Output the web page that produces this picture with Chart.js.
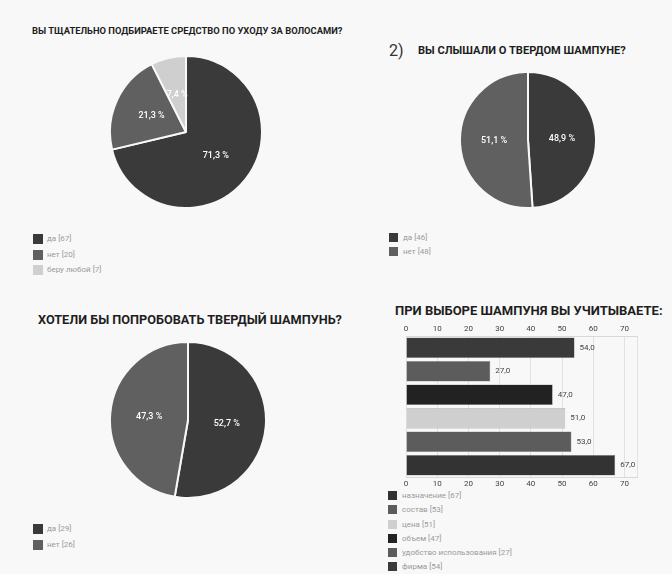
<!DOCTYPE html>
<html>
<head>
<meta charset="utf-8">
<script src="https://cdn.jsdelivr.net/npm/chart.js@4"></script>
<style>
  body { margin: 0; width: 672px; height: 574px; background: #f8f8f8; position: relative; overflow: hidden; font-family: Roboto, "Noto Sans", sans-serif; }
  canvas { position: absolute; }
  .titulo { position: absolute; font-weight: bold; color: #1e1e1e; white-space: nowrap; }
  .legenda { position: absolute; font-size: 8px; color: #9a9a9a; }
  .legenda div { position: relative; height: 15px; line-height: 10px; padding-left: 14px; white-space: nowrap; }
  .legenda span { position: absolute; left: 0; top: 0; width: 10px; height: 10px; }
</style>
</head>
<body>

<div class="titulo" style="left:32px; top:25px; font-size:9.4px;">ВЫ ТЩАТЕЛЬНО ПОДБИРАЕТЕ СРЕДСТВО ПО УХОДУ ЗА ВОЛОСАМИ?</div>
<div class="titulo" style="left:389px; top:41px; font-size:16px; font-weight:normal; color:#333;">2)</div>
<div class="titulo" style="left:418px; top:44px; font-size:11.1px;">ВЫ СЛЫШАЛИ О ТВЕРДОМ ШАМПУНЕ?</div>
<div class="titulo" style="left:38px; top:312px; font-size:12.7px;">ХОТЕЛИ БЫ ПОПРОБОВАТЬ ТВЕРДЫЙ ШАМПУНЬ?</div>
<div class="titulo" style="left:395px; top:303px; font-size:13px;">ПРИ ВЫБОРЕ ШАМПУНЯ ВЫ УЧИТЫВАЕТЕ:</div>

<canvas id="pizza1" width="154" height="154" style="left:109px; top:55px;"></canvas>
<canvas id="pizza2" width="138" height="138" style="left:459px; top:71px;"></canvas>
<canvas id="pizza3" width="158" height="158" style="left:109px; top:341px;"></canvas>
<canvas id="barras" width="296" height="169" style="left:376px; top:322px;"></canvas>

<div class="legenda" id="leg1" style="left:33px; top:234px;"></div>
<div class="legenda" id="leg2" style="left:389px; top:233px;"></div>
<div class="legenda" id="leg3" style="left:33px; top:524px;"></div>
<div class="legenda" id="leg4" style="left:388px; top:491px;"></div>

<script>
// Dados
const rotulos1 = ['да', 'нет', 'беру любой'];
const valores1 = [67, 20, 7];
const cores1 = ['#3a3a3a', '#606060', '#cfcfcf'];

const rotulos2 = ['да', 'нет'];
const valores2 = [46, 48];
const cores2 = ['#3a3a3a', '#606060'];

const rotulos3 = ['да', 'нет'];
const valores3 = [29, 26];
const cores3 = ['#3a3a3a', '#606060'];

// barras de cima para baixo
const rotulosBarras = ['фирма', 'удобство использования', 'объем', 'цена', 'состав', 'назначение'];
const valoresBarras = [54, 27, 47, 51, 53, 67];
const coresBarras = ['#3a3a3a', '#5c5c5c', '#222222', '#cfcfcf', '#5c5c5c', '#333333'];
const ticksBarras = [0, 10, 20, 30, 40, 50, 60, 70];

const virgula = (n) => n.toFixed(1).replace('.', ',');

// rótulos de porcentagem dentro das fatias
const rotulosPizza = {
    id: 'rotulosPizza',
    afterDatasetsDraw(chart) {
        const ctx = chart.ctx;
        const ds = chart.data.datasets[0];
        const total = ds.data.reduce((s, v) => s + v, 0);
        ctx.save();
        ctx.font = '500 9px Roboto';
        ctx.fillStyle = '#ffffff';
        ctx.textAlign = 'center';
        ctx.textBaseline = 'middle';
        chart.getDatasetMeta(0).data.forEach((arc, i) => {
            const p = arc.getCenterPoint();
            ctx.fillText(virgula(ds.data[i] / total * 100) + ' %', p.x, p.y);
        });
        ctx.restore();
    }
};

// valores ao lado das barras
const rotulosBarrasPlugin = {
    id: 'rotulosBarras',
    afterDatasetsDraw(chart) {
        const ctx = chart.ctx;
        ctx.save();
        ctx.font = '8px Roboto';
        ctx.fillStyle = '#444';
        ctx.textAlign = 'left';
        ctx.textBaseline = 'middle';
        chart.getDatasetMeta(0).data.forEach((bar, i) => {
            ctx.fillText(virgula(valoresBarras[i]), bar.x + 5, bar.y);
        });
        ctx.restore();
    }
};

function pizza(id, rotulos, valores, cores) {
    new Chart(document.getElementById(id), {
        type: 'pie',
        data: {
            labels: rotulos,
            datasets: [{ data: valores, backgroundColor: cores, borderColor: '#f8f8f8', borderWidth: 2 }]
        },
        options: {
            responsive: false,
            animation: false,
            layout: { padding: 0 },
            plugins: { legend: { display: false }, tooltip: { enabled: false } }
        },
        plugins: [rotulosPizza]
    });
}

function legenda(id, rotulos, valores, cores, passo, tam) {
    const el = document.getElementById(id);
    rotulos.forEach((r, i) => {
        const linha = document.createElement('div');
        linha.style.height = passo + 'px';
        linha.innerHTML = `<span style="background:${cores[i]};width:${tam}px;height:${tam}px"></span>${r} [${valores[i]}]`;
        el.appendChild(linha);
    });
}

pizza('pizza1', rotulos1, valores1, cores1);
pizza('pizza2', rotulos2, valores2, cores2);
pizza('pizza3', rotulos3, valores3, cores3);

legenda('leg1', rotulos1, valores1, cores1, 15.7, 10);
legenda('leg2', rotulos2, valores2, cores2, 13.7, 9);
legenda('leg3', rotulos3, valores3, cores3, 16.4, 10);
// legenda da barra em ordem inversa
legenda('leg4', rotulosBarras.slice().reverse(), valoresBarras.slice().reverse(), coresBarras.slice().reverse(), 14.3, 9);

const eixoX = (posicao) => ({
    type: 'linear',
    position: posicao,
    min: 0,
    max: 74,
    afterBuildTicks: (s) => { s.ticks = ticksBarras.map(v => ({ value: v })).concat([{ value: 74 }]); },
    afterFit: (s) => { s.height = 14; },
    ticks: {
        padding: 2,
        color: '#444',
        font: { size: 8, family: 'Roboto' },
        maxRotation: 0,
        callback: (v) => ticksBarras.includes(v) ? v : ''
    },
    grid: { color: '#e2e2e2', drawTicks: false },
    border: { color: '#d8d8d8' }
});

new Chart(document.getElementById('barras'), {
    type: 'bar',
    data: {
        labels: rotulosBarras,
        datasets: [{
            data: valoresBarras,
            backgroundColor: coresBarras,
            borderColor: '#8a8a8a',
            borderWidth: 0.5,
            barPercentage: 0.87,
            categoryPercentage: 1,
            xAxisID: 'x'
        }]
    },
    options: {
        indexAxis: 'y',
        responsive: false,
        animation: false,
        layout: { padding: { left: 30, right: 35, top: 0, bottom: 0 } },
        scales: {
            x: eixoX('bottom'),
            x2: eixoX('top'),
            y: { display: false }
        },
        plugins: { legend: { display: false }, tooltip: { enabled: false } }
    },
    plugins: [rotulosBarrasPlugin]
});
</script>
</body>
</html>
